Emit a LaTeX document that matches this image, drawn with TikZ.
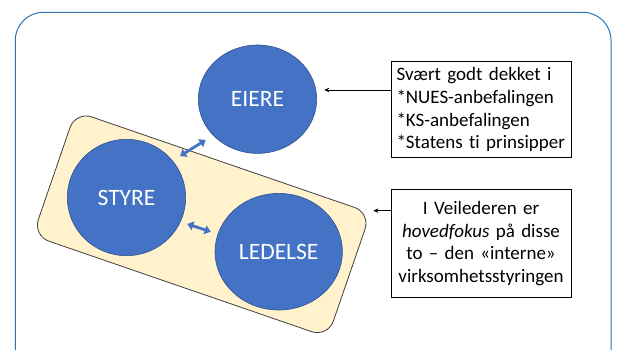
\documentclass[tikz,border=0pt]{standalone}
\usepackage{fontspec}
\setmainfont{Carlito}[Ligatures=NoCommon]
\usepackage{tikz}
\usetikzlibrary{arrows.meta, shapes.geometric, positioning, calc}
\definecolor{govblue}{HTML}{4472C4}
\definecolor{govedge}{HTML}{2F528F}
\definecolor{govtan}{HTML}{FFF2CC}
\definecolor{govframe}{HTML}{2E75B6}
\definecolor{govgrey}{HTML}{404040}

\begin{document}
\begin{tikzpicture}[
    x = 1pt, y = 1pt,
    actor/.style = {ellipse, draw=govedge, line width=0.6pt, fill=govblue,
                    text=white, inner sep=0pt,
                    font=\fontsize{23.5}{28}\selectfont},
    note/.style  = {draw, line width=1pt, minimum width=180pt,
                    text width=169pt, inner sep=5.5pt,
                    font=\fontsize{19}{22.7}\selectfont},
    arr/.style   = {-{Stealth[length=5pt, width=4.5pt]}, line width=0.9pt},
    barr/.style  = {{Triangle[length=6pt, width=9pt]}-{Triangle[length=6pt, width=9pt]},
                    line width=2.8pt, govblue},
  ]

  %% Canvas
  \useasboundingbox (0,0) rectangle (617,349);
  \clip (0,0) rectangle (617,349);
  \draw[govframe, line width=1pt, rounded corners=28pt]
    (15.3,-40) rectangle (611,336.7);

  %% Internal governance group
  \node[draw=govgrey, line width=0.8pt, fill=govtan, rounded corners=17pt,
        minimum width=312pt, minimum height=131.4pt, rotate=-19]
        (group) at (201.7,124.7) {};

  %% Actors
  \node[actor, minimum width=118.4pt, minimum height=108.4pt] (eiere) at (257.5,249.8) {EIERE};
  \node[actor, minimum width=118.4pt, minimum height=116.4pt] (styre) at (126.5,151.5) {STYRE};
  \node[actor, minimum width=127.4pt, minimum height=116.6pt] (ledelse) at (278.7,97.3) {LEDELSE};

  %% Relations between actors
  \coordinate (styreUp)  at (180,193);
  \coordinate (eiereLow) at (205.7,209);
  \coordinate (styreRt)  at (187.3,125);
  \coordinate (ledLeft)  at (210.7,117.3);
  \draw[barr] (styreUp) -- (eiereLow);
  \draw[barr] (styreRt) -- (ledLeft);

  %% Comments
  \node[note, align=left] (cover) at (481,239.4)
    {Svært godt dekket i\\{}*NUES-anbefalingen\\{}*KS-anbefalingen\\{}*Statens ti prinsipper};
  \node[note, align=center, minimum height=108.4pt] (focus) at (481,105.5)
    {I Veilederen er\\\textit{hovedfokus} på disse\\to – den «interne»\\virksomhetsstyringen};

  \coordinate (eiereTip) at (324.3,259);
  \coordinate (groupTip) at (373.3,138.3);
  \draw[arr] (eiereTip -| cover.west) -- (eiereTip);
  \draw[arr] (groupTip -| focus.west) -- (groupTip);

\end{tikzpicture}
\end{document}
